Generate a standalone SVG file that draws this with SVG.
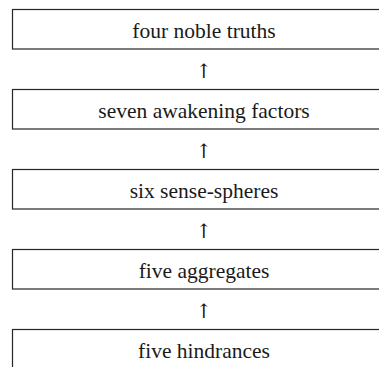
<svg xmlns="http://www.w3.org/2000/svg" width="379" height="367" viewBox="0 0 379 367">
<style>
.box{fill:#fff;stroke:#262626;stroke-width:1.2}
.lbl{font-family:"Liberation Serif","DejaVu Serif",serif;font-size:21.5px;fill:#1a1a1a;text-anchor:middle}
.arr{font-family:"DejaVu Serif","Liberation Serif",serif;font-size:20px;fill:#1a1a1a;text-anchor:middle}
</style>
<rect width="379" height="367" fill="#fff"/>
<g id="connectors">
<text class="arr" x="204" y="78">↑</text>
<text class="arr" x="204" y="158">↑</text>
<text class="arr" x="204" y="238">↑</text>
<text class="arr" x="204" y="318">↑</text>
</g>
<g id="n1"><rect class="box" x="12.5" y="9.5" width="390" height="39.5"/><text class="lbl" x="204" y="38">four noble truths</text></g>
<g id="n2"><rect class="box" x="12.5" y="89.5" width="390" height="39.5"/><text class="lbl" x="204" y="118">seven awakening factors</text></g>
<g id="n3"><rect class="box" x="12.5" y="169.5" width="390" height="39.5"/><text class="lbl" x="204" y="198">six sense-spheres</text></g>
<g id="n4"><rect class="box" x="12.5" y="249.5" width="390" height="39.5"/><text class="lbl" x="204" y="278">five aggregates</text></g>
<g id="n5"><rect class="box" x="12.5" y="329.5" width="390" height="39.5"/><text class="lbl" x="204" y="358">five hindrances</text></g>
</svg>
